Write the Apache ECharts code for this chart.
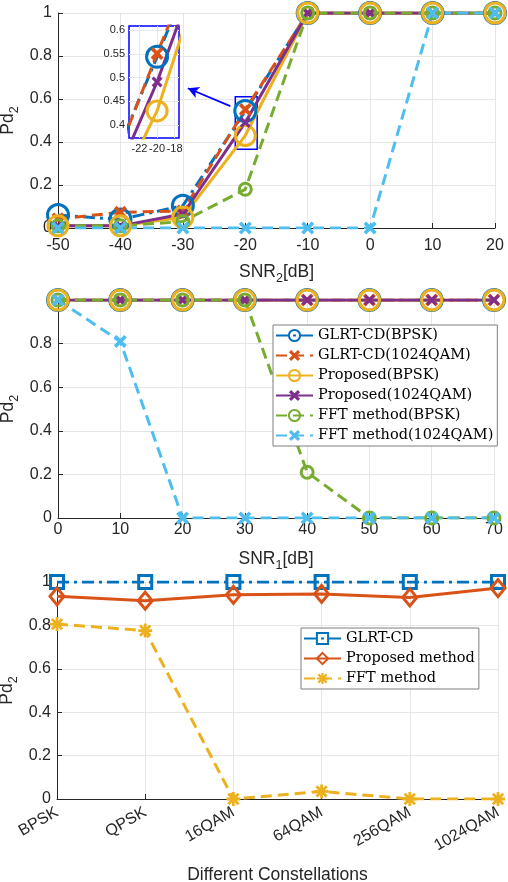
<!DOCTYPE html>
<html>
<head>
<meta charset="utf-8">
<script src="https://cdn.jsdelivr.net/npm/echarts@6/dist/echarts.min.js"></script>
<style>html,body{margin:0;padding:0;background:#fff;}#c{width:508px;height:882px;}</style>
</head>
<body>
<div id="c"></div>
<script>
// ---- data ----
const snr2 = [-50, -40, -30, -20, -10, 0, 10, 20];
const topGlrtBpsk = [0.06, 0.04, 0.104, 0.544, 1, 1, 1, 1];
const topGlrtQam = [0.042, 0.073, 0.079, 0.551, 1, 1, 1, 1];
const topPropBpsk = [0.01, 0.01, 0.05, 0.43, 1, 1, 1, 1];
const topPropQam = [0.01, 0.01, 0.065, 0.491, 1, 1, 1, 1];
const topFftBpsk = [0.01, 0.01, 0.03, 0.18, 1, 1, 1, 1];
const topFftQam = [0, 0, 0, 0, 0, 0, 1, 1];

const snr1 = [0, 10, 20, 30, 40, 50, 60, 70];
const midGlrtBpsk = [1, 1, 1, 1, 1, 1, 1, 1];
const midGlrtQam = [1, 1, 1, 1, 1, 1, 1, 1];
const midPropBpsk = [1, 1, 1, 1, 1, 1, 1, 1];
const midPropQam = [1, 1, 1, 1, 1, 1, 1, 1];
const midFftBpsk = [1, 1, 1, 1, 0.21, 0, 0, 0];
const midFftQam = [1, 0.81, 0, 0, 0, 0, 0, 0];

const constellations = ['BPSK', 'QPSK', '16QAM', '64QAM', '256QAM', '1024QAM'];
const botGlrt = [1, 1, 1, 1, 1, 1];
const botProposed = [0.934, 0.914, 0.941, 0.945, 0.929, 0.972];
const botFft = [0.806, 0.776, 0, 0.035, 0, 0];

const names6 = ['GLRT-CD(BPSK)', 'GLRT-CD(1024QAM)', 'Proposed(BPSK)', 'Proposed(1024QAM)', 'FFT method(BPSK)', 'FFT method(1024QAM)'];
const names3 = ['GLRT-CD', 'Proposed method', 'FFT method'];
const insetYTicks = [0.4, 0.45, 0.5, 0.55, 0.6];
const insetXTicks = [-22, -20, -18];
// zoom region / arrow annotation (data coords)
const zoomBox = [[-21.6, 0.366], [-18.1, 0.61]];
const arrowLine = [[-22.4, 0.567], [-29.2, 0.65]];

// ---- styles ----
const C = {blue:'#0072BD', orange:'#D95319', yellow:'#EDB120', purple:'#7E2F8E', green:'#77AC30', cyan:'#4DBEEE'};
const XSYM = 'path://M2,0L5,3L8,0L10,2L7,5L10,8L8,10L5,7L2,10L0,8L3,5L0,2Z';
const ASTER = 'path://M4,0L6,0L6,10L4,10Z M0,4L10,4L10,6L0,6Z M2,0.6L5,3.6L8,0.6L9.4,2L6.4,5L9.4,8L8,9.4L5,6.4L2,9.4L0.6,8L3.6,5L0.6,2Z';
const DASH = [11, 6];
const DASHDOT = [12, 5, 3, 5];
const SANS = 'Liberation Sans';
const SERIF = 'DejaVu Serif';
const AX = '#262626';

const styles = [
  {color:C.blue, sym:'circle', size:21, hollow:true, dash:DASHDOT},
  {color:C.orange, sym:XSYM, size:13, hollow:false, dash:DASH},
  {color:C.yellow, sym:'circle', size:20, hollow:true, dash:'solid'},
  {color:C.purple, sym:XSYM, size:11, hollow:false, dash:'solid'},
  {color:C.green, sym:'circle', size:12, hollow:true, dash:DASH},
  {color:C.cyan, sym:XSYM, size:13, hollow:false, dash:DASH}
];

function pairs(xs, ys) { return xs.map((x, i) => [x, ys[i]]); }

function mk(name, data, st, xi, yi, z) {
  return {
    type:'line', name:name, data:data, xAxisIndex:xi, yAxisIndex:yi,
    symbol:st.sym, symbolSize:st.size, showSymbol:true, clip:true, z:z||2,
    lineStyle:{color:st.color, width:3, type:st.dash},
    itemStyle: st.hollow ? {color:'rgba(255,255,255,0)', borderColor:st.color, borderWidth:3}
                         : {color:st.color, borderColor:st.color, borderWidth:0},
    emphasis:{disabled:true}, animation:false
  };
}

function subName(main, sub, after) {
  return '{a|' + main + '}{s|' + sub + '}' + (after ? '{a|' + after + '}' : '');
}
const nameRich = {
  a:{fontFamily:SANS, fontSize:17.5, color:AX, lineHeight:21, verticalAlign:'top'},
  s:{fontFamily:SANS, fontSize:12.5, color:AX, lineHeight:13, verticalAlign:'top', padding:[9,0,0,0]}
};

function valAxis(grid, min, max, interval, extra) {
  return Object.assign({
    type:'value', gridIndex:grid, min:min, max:max, interval:interval,
    axisLine:{show:true, onZero:false, lineStyle:{color:AX, width:1}},
    axisTick:{show:true, inside:true, length:5, lineStyle:{color:AX}},
    splitLine:{show:true, lineStyle:{color:'#e6e6e6', width:1}},
    axisLabel:{fontFamily:SANS, fontSize:16, color:AX, margin:6}
  }, extra || {});
}

const grids = [
  {left:58, right:13, top:13, height:215, outerBoundsMode:'none', containLabel:false},
  {left:129, width:50, top:26, height:112, show:true, backgroundColor:'#ffffff', borderColor:'#0000ff', borderWidth:1.5, z:3, outerBoundsMode:'none', containLabel:false},
  {left:58, right:14, top:300, height:218, outerBoundsMode:'none', containLabel:false},
  {left:57, right:10, top:582, height:217, outerBoundsMode:'none', containLabel:false}
];

const yName = {name:subName('Pd','2'), nameLocation:'middle', nameGap:38, nameMoveOverlap:false, nameRotate:90, nameTextStyle:{rich:nameRich}};

const xAxes = [
  valAxis(0, -50, 20, 10, {
    name:subName('SNR','2','[dB]'), nameLocation:'middle', nameGap:35, nameTextStyle:{rich:nameRich},
    axisLabel:{fontFamily:SANS, fontSize:16, color:AX, margin:10}
  }),
  valAxis(1, -23.2, -17.5, null, {
    axisLine:{show:false}, z:4,
    axisTick:{show:true, inside:true, length:3, lineStyle:{color:AX}, customValues:insetXTicks},
    splitLine:{show:false},
    axisLabel:{fontFamily:SANS, fontSize:11, color:AX, margin:5, customValues:insetXTicks}
  }),
  valAxis(2, 0, 70, 10, {
    name:subName('SNR','1','[dB]'), nameLocation:'middle', nameGap:32, nameTextStyle:{rich:nameRich},
    axisLabel:{fontFamily:SANS, fontSize:16, color:AX, margin:4}
  }),
  {
    type:'category', gridIndex:3, data:constellations, boundaryGap:false,
    axisLine:{show:true, lineStyle:{color:AX, width:1}},
    axisTick:{show:true, inside:true, length:5, lineStyle:{color:AX}},
    splitLine:{show:true, lineStyle:{color:'#e6e6e6', width:1}},
    axisLabel:{fontFamily:SANS, fontSize:16, color:AX, rotate:30, margin:12, interval:0},
    name:'Different Constellations', nameLocation:'middle', nameGap:67,
    nameTextStyle:{fontFamily:SANS, fontSize:17.5, color:AX}
  }
];

const yAxes = [
  valAxis(0, 0, 1, 0.2, yName),
  valAxis(1, 0.373, 0.609, null, {
    axisLine:{show:false}, z:4,
    axisTick:{show:true, inside:true, length:3, lineStyle:{color:AX}, customValues:insetYTicks},
    splitLine:{show:false},
    axisLabel:{fontFamily:SANS, fontSize:11, color:AX, margin:4, customValues:insetYTicks, formatter:v => String(+(+v).toFixed(2))}
  }),
  valAxis(2, 0, 1, 0.2, Object.assign({}, yName, {axisLabel:{fontFamily:SANS, fontSize:16, color:AX, margin:6, formatter:v => v === 1 ? '' : String(v)}})),
  valAxis(3, 0, 1, 0.2, yName)
];

const topData = [topGlrtBpsk, topGlrtQam, topPropBpsk, topPropQam, topFftBpsk, topFftQam];
const midData = [midGlrtBpsk, midGlrtQam, midPropBpsk, midPropQam, midFftBpsk, midFftQam];

const series = [];
topData.forEach((d, i) => series.push(mk(names6[i], pairs(snr2, d), styles[i], 0, 0)));
// zoom box + arrow
series[series.length - 1].markArea = {
  silent:true,
  itemStyle:{color:'rgba(0,0,0,0)', borderColor:'#0000ff', borderWidth:1.5},
  data:[[{coord:zoomBox[0]}, {coord:zoomBox[1]}]]
};
series[series.length - 1].markLine = {
  silent:true, symbol:['none', 'arrow'], symbolSize:[9, 11], animation:false,
  lineStyle:{color:'#0000ff', width:1.8, type:'solid'}, label:{show:false},
  data:[[{coord:arrowLine[0]}, {coord:arrowLine[1]}]]
};
// inset
const insetGrid = {
  silent:true, symbol:['none', 'none'], animation:false, label:{show:false},
  lineStyle:{color:'#e8e8e8', width:1, type:'solid'},
  data: insetYTicks.map(v => ({yAxis:v})).concat(insetXTicks.map(v => ({xAxis:v})))
};
for (let i = 0; i < 4; i++) {
  const s = mk(names6[i], pairs(snr2, topData[i]), styles[i], 1, 1, 5);
  if (i === 0) s.markLine = insetGrid;
  series.push(s);
}
midData.forEach((d, i) => series.push(mk(names6[i], pairs(snr1, d), styles[i], 2, 2)));
// bottom
series.push(mk(names3[0], botGlrt, {color:C.blue, sym:'rect', size:13, hollow:true, dash:DASHDOT}, 3, 3));
series.push(mk(names3[1], botProposed, {color:C.orange, sym:'diamond', size:[14, 17], hollow:true, dash:'solid'}, 3, 3));
series.push(mk(names3[2], botFft, {color:C.yellow, sym:ASTER, size:14, hollow:false, dash:DASH}, 3, 3));

const legendBase = {
  orient:'vertical', itemWidth:37, itemHeight:14, itemGap:5,
  backgroundColor:'#ffffff', borderColor:'#7f7f7f', borderWidth:1, borderRadius:0,
  padding:[3, 4, 3, 2], selectedMode:false,
  textStyle:{fontFamily:SERIF, fontSize:14.5, color:'#000000'}
};

const option = {
  animation:false,
  backgroundColor:'#ffffff',
  grid:grids,
  xAxis:xAxes,
  yAxis:yAxes,
  legend:[
    Object.assign({}, legendBase, {data:names6, left:273, top:325, z:10}),
    Object.assign({}, legendBase, {data:names3, left:301, top:628, z:10})
  ],
  series:series
};

const chart = echarts.init(document.getElementById('c'), null, {renderer:'canvas'});
chart.setOption(option);
</script>
</body>
</html>
